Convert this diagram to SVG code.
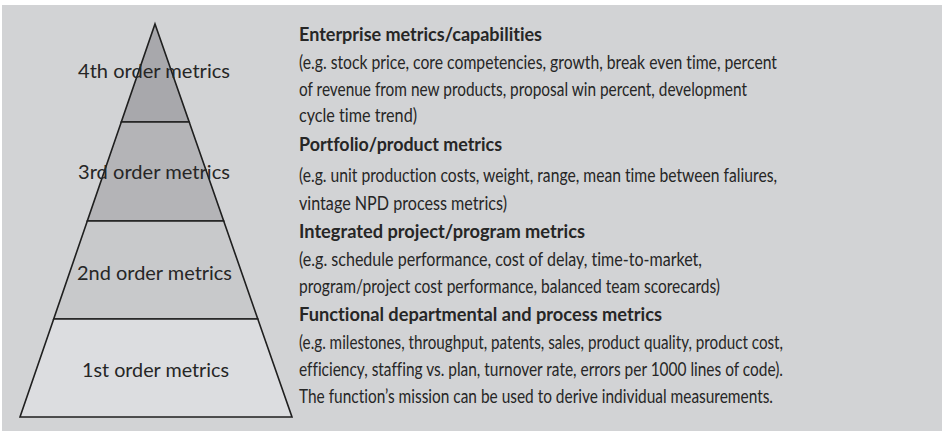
<svg xmlns="http://www.w3.org/2000/svg" width="942" height="431" viewBox="0 0 942 431">
  <style>
    .tier { stroke: #1f1f1f; stroke-width: 1.6; stroke-linejoin: miter; }
    text { font-variant-ligatures: none; }
    .lbl { font-family: Lato, "Liberation Sans", sans-serif; font-size: 20px; fill: #262626; text-anchor: middle; }
    .hd { font-family: Lato, "Liberation Sans", sans-serif; font-size: 19px; font-weight: bold; fill: #262626; }
    .bd { font-family: Lato, "Liberation Sans", sans-serif; font-size: 18.5px; fill: #262626; }
  </style>
  <rect x="0" y="0" width="942" height="431" fill="#ffffff"/>
  <rect id="panel" x="2" y="5" width="940" height="426" fill="#d2d3d5"/>

  <g id="tier4">
    <polygon class="tier" points="155,24 189.2,122 121.3,122" fill="#a8a8ac"/>
  </g>
  <g id="tier3">
    <polygon class="tier" points="121.3,122 189.2,122 223.7,221 87.3,221" fill="#b4b4b7"/>
  </g>
  <g id="tier2">
    <polygon class="tier" points="87.3,221 223.7,221 257.8,319 53.7,319" fill="#c8c9cb"/>
  </g>
  <g id="tier1">
    <polygon class="tier" points="53.7,319 257.8,319 292,417 20,417" fill="#dcdde0"/>
  </g>

  <g id="labels">
    <text class="lbl" x="154" y="78" textLength="152" lengthAdjust="spacingAndGlyphs">4th order metrics</text>
    <text class="lbl" x="154" y="179" textLength="152" lengthAdjust="spacingAndGlyphs">3rd order metrics</text>
    <text class="lbl" x="154.5" y="280" textLength="155" lengthAdjust="spacingAndGlyphs">2nd order metrics</text>
    <text class="lbl" x="155.5" y="377" textLength="147" lengthAdjust="spacingAndGlyphs">1st order metrics</text>
  </g>

  <g id="enterprise">
    <text class="hd" x="299" y="41" textLength="243" lengthAdjust="spacingAndGlyphs">Enterprise metrics/capabilities</text>
    <text class="bd" x="299" y="69" textLength="478" lengthAdjust="spacingAndGlyphs">(e.g. stock price, core competencies, growth, break even time, percent</text>
    <text class="bd" x="299" y="96" textLength="448" lengthAdjust="spacingAndGlyphs">of revenue from new products, proposal win percent, development</text>
    <text class="bd" x="299" y="122" textLength="118" lengthAdjust="spacingAndGlyphs">cycle time trend)</text>
  </g>
  <g id="portfolio">
    <text class="hd" x="299" y="151" textLength="203" lengthAdjust="spacingAndGlyphs">Portfolio/product metrics</text>
    <text class="bd" x="299" y="182" textLength="478" lengthAdjust="spacingAndGlyphs">(e.g. unit production costs, weight, range, mean time between faliures,</text>
    <text class="bd" x="299" y="210" textLength="208" lengthAdjust="spacingAndGlyphs">vintage NPD process metrics)</text>
  </g>
  <g id="integrated">
    <text class="hd" x="299" y="238" textLength="286" lengthAdjust="spacingAndGlyphs">Integrated project/program metrics</text>
    <text class="bd" x="299" y="266" textLength="403" lengthAdjust="spacingAndGlyphs">(e.g. schedule performance, cost of delay, time-to-market,</text>
    <text class="bd" x="299" y="293" textLength="421" lengthAdjust="spacingAndGlyphs">program/project cost performance, balanced team scorecards)</text>
  </g>
  <g id="functional">
    <text class="hd" x="299" y="321" textLength="363" lengthAdjust="spacingAndGlyphs">Functional departmental and process metrics</text>
    <text class="bd" x="299" y="349" textLength="484" lengthAdjust="spacingAndGlyphs">(e.g. milestones, throughput, patents, sales, product quality, product cost,</text>
    <text class="bd" x="299" y="376" textLength="484" lengthAdjust="spacingAndGlyphs">efficiency, staffing vs. plan, turnover rate, errors per 1000 lines of code).</text>
    <text class="bd" x="299" y="403" textLength="474" lengthAdjust="spacingAndGlyphs">The function’s mission can be used to derive individual measurements.</text>
  </g>
</svg>
